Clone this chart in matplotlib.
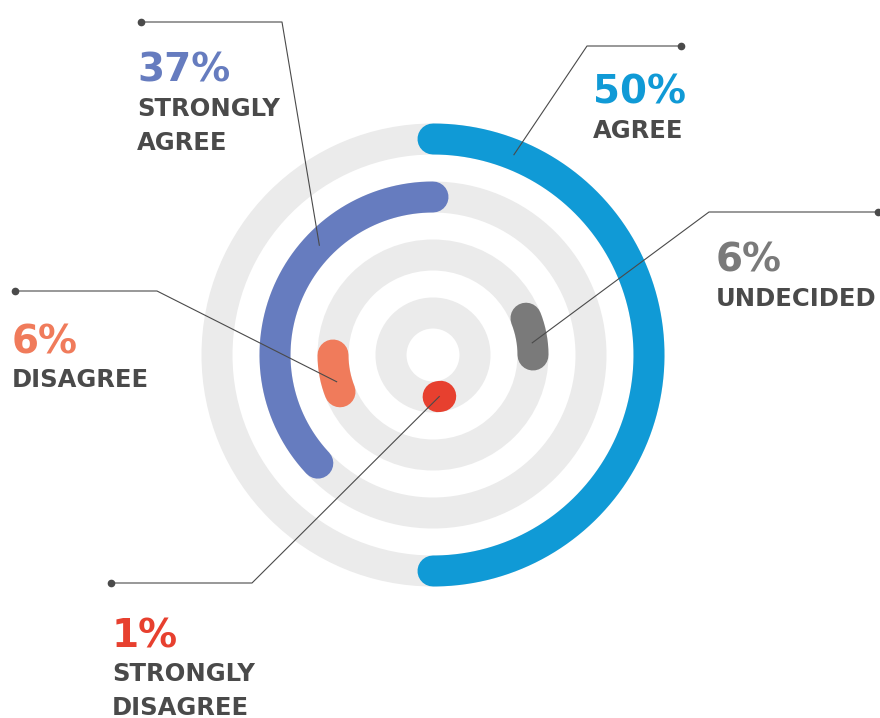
import numpy as np
import matplotlib
matplotlib.use("Agg")
import matplotlib.pyplot as plt
from matplotlib.patches import Circle

# survey answers
labels = ["AGREE", "STRONGLY\nAGREE", "UNDECIDED", "DISAGREE", "STRONGLY\nDISAGREE"]
values = [50, 37, 6, 6, 1]
colors = ["#109ad6", "#667cbf", "#7a7a7a", "#f07b5b", "#e7402f"]

# ring each answer sits on (0 = innermost), where its arc starts and which way it runs
ring_of = [3, 2, 1, 1, 0]
start_deg = [90, 90, 0, 180, 277]
direction = [-1, 1, 1, 1, 1]

CX, CY = 433, 355
RADII = [42, 100, 158, 216]
BAND = 31  # px

W, H = 880, 718
fig = plt.figure(figsize=(W / 100, H / 100), dpi=100)
ax = fig.add_axes([0, 0, 1, 1])
ax.set_xlim(0, W)
ax.set_ylim(H, 0)
ax.set_aspect("equal")
ax.axis("off")

lw = BAND * 72 / 100


def ring_xy(r, deg):
    t = np.radians(deg)
    return CX + r * np.cos(t), CY - r * np.sin(t)


# light grey tracks
for r in RADII:
    ax.add_patch(Circle((CX, CY), r, fill=False, edgecolor="#ebebeb", lw=lw, zorder=1))

# value arcs
for v, c, ri, s, d in zip(values, colors, ring_of, start_deg, direction):
    sweep = v / 100 * 360
    x, y = ring_xy(RADII[ri], np.linspace(s, s + d * sweep, 200))
    ax.plot(x, y, color=c, lw=lw, solid_capstyle="round", zorder=2)

# leader lines: dot, elbow, angle where it touches the arc
dots = [(681, 46), (141, 22), (878, 212), (15, 291), (111, 583)]
elbows = [(587, 46), (282, 22), (709, 212), (157, 291), (252, 583)]
touch_deg = [68, 136, 7, 195.5, 278.6]

for i in range(len(values)):
    ex, ey = ring_xy(RADII[ring_of[i]], touch_deg[i])
    (dx, dy), (bx, by) = dots[i], elbows[i]
    ax.plot([dx, bx, ex], [dy, by, ey], color="#4a4a4a", lw=0.8, zorder=3)
    ax.plot(dx, dy, "o", color="#4a4a4a", ms=4.5, zorder=3)

# text blocks: left x, baseline of the percentage
text_pos = [(593, 104), (137, 82), (716, 272), (12, 353), (112, 647)]
dark = "#4a4a4a"
for i, (tx, ty) in enumerate(text_pos):
    ax.text(tx, ty, f"{values[i]}%", color=colors[i], fontsize=28,
            fontweight="bold", ha="left", va="baseline")
    for j, line in enumerate(labels[i].split("\n")):
        ax.text(tx, ty + 34 + j * 34, line, color=dark, fontsize=17.5,
                fontweight="bold", ha="left", va="baseline")

fig.savefig("out.png", dpi=100)
